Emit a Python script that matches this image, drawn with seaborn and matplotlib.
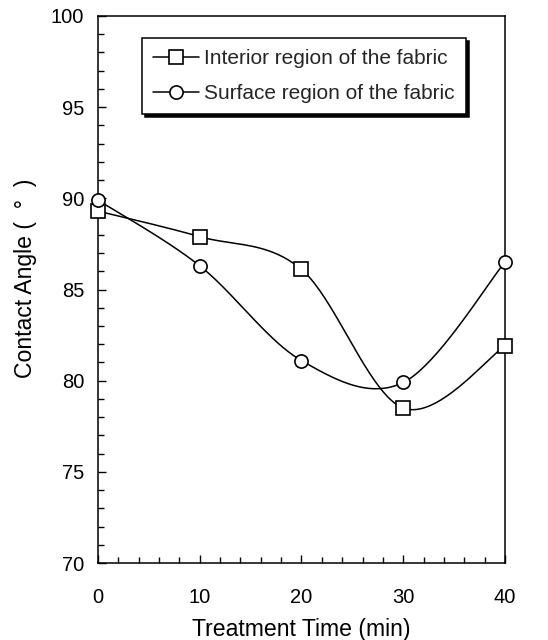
import numpy as np
import pandas as pd
import matplotlib
matplotlib.use("Agg")
import matplotlib.pyplot as plt
import seaborn as sns
from matplotlib.lines import Line2D
from matplotlib.ticker import MultipleLocator

# ---- data ----
time_min = [0, 10, 20, 30, 40]
interior = [89.3, 87.9, 86.1, 78.5, 81.9]
surface = [89.9, 86.3, 81.1, 79.9, 86.5]
series_labels = ["Interior region of the fabric", "Surface region of the fabric"]
x_ticks = [0, 10, 20, 30, 40]
y_ticks = [70, 75, 80, 85, 90, 95, 100]


def smooth(xs, ys, n=40):
    """Excel-style smoothed line (Catmull-Rom Bezier through the points)."""
    P = np.column_stack([xs, ys]).astype(float)
    out = []
    for i in range(len(P) - 1):
        p0 = P[i - 1] if i > 0 else P[i]
        p1, p2 = P[i], P[i + 1]
        p3 = P[i + 2] if i + 2 < len(P) else P[i + 1]
        c1 = p1 + (p2 - p0) / 6.0
        c2 = p2 - (p3 - p1) / 6.0
        t = np.linspace(0, 1, n)[:, None]
        seg = ((1 - t) ** 3) * p1 + 3 * ((1 - t) ** 2) * t * c1 + 3 * (1 - t) * t ** 2 * c2 + t ** 3 * p2
        out.append(seg if i == 0 else seg[1:])
    s = np.vstack(out)
    return s[:, 0], s[:, 1]


sns.set_theme(style="ticks")
plt.rcParams["font.family"] = ["Liberation Sans", "DejaVu Sans"]

fig = plt.figure(figsize=(5.48, 6.40), dpi=100)
ax = fig.add_axes([0.1788, 0.1203, 0.9215 - 0.1788, 0.975 - 0.1203])

lw = 1.1
markers = ["s", "o"]
for vals, mk, lab in zip([interior, surface], markers, series_labels):
    sx, sy = smooth(time_min, vals)
    df_s = pd.DataFrame({"x": sx, "y": sy})
    sns.lineplot(data=df_s, x="x", y="y", ax=ax, color="black", lw=lw, sort=False,
                 estimator=None)
    df_p = pd.DataFrame({"x": time_min, "y": vals})
    ax.plot(df_p["x"], df_p["y"], ls="none", marker=mk, ms=9.5, mfc="white",
            mec="black", mew=1.2, zorder=5, clip_on=False)

ax.set_xlim(0, 40)
ax.set_ylim(70, 100)
ax.set_xticks(x_ticks)
ax.set_yticks(y_ticks)
ax.xaxis.set_minor_locator(MultipleLocator(2))
ax.yaxis.set_minor_locator(MultipleLocator(1))
ax.tick_params(which="both", direction="in", top=False, right=False, width=1.0,
               color="black", labelsize=14.5, labelcolor="black")
ax.tick_params(which="major", length=6)
ax.tick_params(which="minor", length=4)
ax.tick_params(axis="x", which="major", pad=18)
ax.tick_params(axis="y", which="major", pad=10)
for sp in ax.spines.values():
    sp.set_visible(True)
    sp.set_color("black")
    sp.set_linewidth(1.1)

ax.set_xlabel("Treatment Time (min)", fontsize=16.6, color="black", labelpad=8)
ax.set_ylabel("Contact Angle (  °  )", fontsize=16.6, color="black")
ax.yaxis.set_label_coords(-0.15, 0.52)

handles = [Line2D([], [], color="black", lw=lw, marker=m, ms=9.5, mfc="white",
                  mec="black", mew=1.2) for m in markers]
leg = ax.legend(handles, series_labels, loc="upper left", bbox_to_anchor=(0.108, 0.96),
                fontsize=15, frameon=True, fancybox=False, shadow={"color": "black", "alpha": 1.0},
                handlelength=2.2, handletextpad=0.25, borderpad=0.55, labelspacing=0.75,
                borderaxespad=0)
leg.get_frame().set_edgecolor("black")
leg.get_frame().set_linewidth(1.1)
leg.get_frame().set_facecolor("white")
leg.get_frame().set_alpha(1.0)

fig.savefig("out.png", dpi=100)
